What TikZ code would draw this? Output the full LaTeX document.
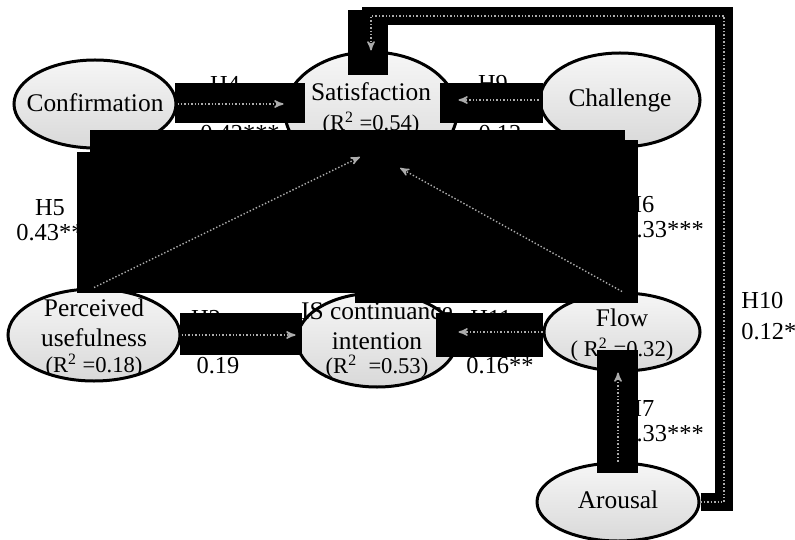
\documentclass[tikz,border=0pt]{standalone}
\usepackage{fontspec}
\setmainfont{Liberation Serif}
\usetikzlibrary{arrows,shapes,calc}
\newcommand{\rline}[1]{{\fontsize{11.3}{12}\selectfont #1}}
\tikzset{
    >=stealth',
    construct/.style={draw=black,ellipse,line width=1.5pt,inner sep=0pt,top color=gray!7,bottom color=gray!30},
    nametext/.style={align=center,inner sep=0pt,font=\fontsize{12.7}{15}\selectfont},
    hyp/.style={align=center,inner sep=0pt,font=\fontsize{12.2}{12.8}\selectfont},
    blackout/.style={fill=black},
    link/.style={draw=gray!65,densely dotted,line width=0.7pt,->},
    band/.style={draw=black,line width=9pt,line join=miter},
}

\begin{document}
\begin{tikzpicture}[x=0.5pt,y=-0.5pt]
            \useasboundingbox (0,0) rectangle (795,539);

            \node[construct,minimum width=81pt,minimum height=44pt] (conf) at (95,104) {};
            \node[construct,minimum width=86pt,minimum height=60pt] (sat) at (371,112) {};
            \node[construct,minimum width=80pt,minimum height=47pt] (chal) at (620,100) {};
            \node[construct,minimum width=86pt,minimum height=46pt] (pu) at (94,335) {};
            \node[construct,minimum width=80pt,minimum height=47pt] (isci) at (377,340) {};
            \node[construct,minimum width=78pt,minimum height=39pt] (flow) at (622,332) {};
            \node[construct,minimum width=81pt,minimum height=39pt] (aro) at (618,502) {};

            \node[nametext] (conf-t) at (95,103) {Confirmation};
            \node[nametext] (sat-t) at (371,109) {Satisfaction\\ \rline{(R\textsuperscript{2} =0.54)}};
            \node[nametext] (chal-t) at (620,100) {Challenge};
            \node[nametext] (pu-t) at (94,338) {Perceived\\usefulness\\[-2pt] \rline{(R\textsuperscript{2} =0.18)}};
            \node[nametext] (isci-t) at (377,340) {IS continuance\\intention\\[-3pt] \rline{(R\textsuperscript{2}\ \ =0.53)}};
            \node[nametext] (flow-t) at (622,335) {Flow\\ \rline{( R\textsuperscript{2} =0.32)}};
            \node[nametext] (aro-t) at (618,500) {Arousal};

            \node[hyp] (h4) at (225,84) {H4};
            \node[hyp] (h4v) at (240,134) {0.42***};
            \node[hyp] (h9) at (493,84) {H9};
            \node[hyp] (h9v) at (500,134) {0.12};
            \node[hyp] (h5) at (50,220) {H5\\0.43**};
            \node[hyp,anchor=west,align=left] (h6) at (624,217) {H6\\0.33***};
            \node[hyp] (h2) at (206,318) {H2};
            \node[hyp] (h2v) at (218,366) {0.19};
            \node[hyp] (h11) at (491,318) {H11};
            \node[hyp] (h11v) at (500,366) {0.16**};
            \node[hyp,anchor=west,align=left] (h7) at (624,421) {H7\\0.33***};
            \node[hyp,anchor=west,align=left] (h10) at (741,316) {H10\\[3pt]0.12*};

            \fill[blackout] (175,83) rectangle (305,123);
            \fill[blackout] (440,83) rectangle (543,123);
            \fill[blackout] (90,130) rectangle (625,293);
            \fill[blackout] (77,152) rectangle (638,293);
            \fill[blackout] (355,140) rectangle (638,303);
            \fill[blackout] (180,313) rectangle (302,355);
            \fill[blackout] (436,313) rectangle (543,357);
            \fill[blackout] (597,350) rectangle (638,473);
            \fill[blackout] (348,10) rectangle (388,75);

            \coordinate (h10c) at (724,16);
            \draw[band] (aro.east) -| (h10c) -| (sat.north);
            \draw[link] (aro.east) -| (h10c) -| (sat.north);

            \draw[link] (conf.east) -- (conf.east -| sat.west);
            \draw[link] (chal.west) -- (chal.west -| sat.east);
            \draw[link] (pu.north) -- ([shift={(-11,45)}]sat.center);
            \draw[link] (flow.north) -- ([shift={(29,56)}]sat.center);
            \draw[link] (pu.east) -- (pu.east -| isci.west);
            \draw[link] (flow.west) -- (flow.west -| isci.east);
            \draw[link] (aro.north) -- (aro.north |- flow.south);
\end{tikzpicture}
\end{document}
